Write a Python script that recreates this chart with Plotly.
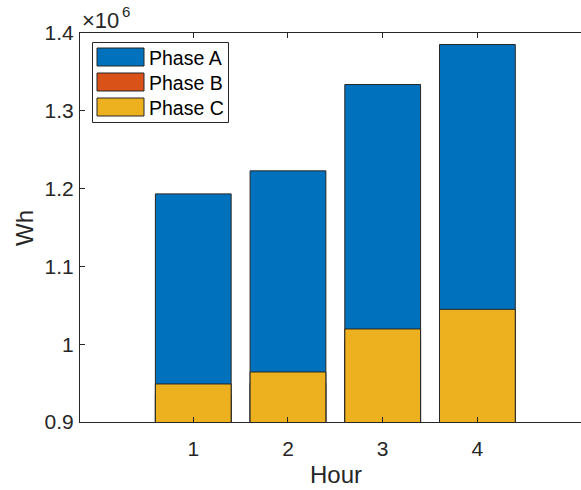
import plotly.graph_objects as go

# Hourly energy per phase (Wh)
hours = [1, 2, 3, 4]
phase_a = [1.1932e6, 1.2228e6, 1.3338e6, 1.3852e6]
phase_b = [0.9350e6, 0.9500e6, 1.0050e6, 1.0300e6]
phase_c = [0.9489e6, 0.9643e6, 1.0196e6, 1.0448e6]
series_names = ["Phase A", "Phase B", "Phase C"]
series_colors = ["#0072BD", "#D95319", "#EDB120"]
y_ticks = [0.9e6, 1.0e6, 1.1e6, 1.2e6, 1.3e6, 1.4e6]
y_tick_text = ["0.9", "1", "1.1", "1.2", "1.3", "1.4"]

W, H = 581, 490
L, R, T, B = 80, 0, 33, 68
TXT = "#262626"
FONT = "Liberation Sans, Arial, sans-serif"

fig = go.Figure()
for name, vals, col in zip(series_names, [phase_a, phase_b, phase_c], series_colors):
    fig.add_trace(go.Bar(
        x=hours, y=vals, name=name, width=0.8,
        marker=dict(color=col, line=dict(color=TXT, width=1)),
        showlegend=False,
    ))


def px(x, y):
    """pixel position -> paper coordinates"""
    return (x - L) / (W - L - R), 1 - (y - T) / (H - T - B)


shapes = []
annotations = []

# legend box
x0, y0 = px(92.5, 42.5)
x1, y1 = px(228.5, 122.5)
shapes.append(dict(type="rect", xref="paper", yref="paper", x0=x0, y0=y0, x1=x1, y1=y1,
                   line=dict(color="#262626", width=1), fillcolor="white", layer="above"))
for i, (name, col) in enumerate(zip(series_names, series_colors)):
    top = 48 + 25 * i
    sx0, sy0 = px(97, top)
    sx1, sy1 = px(144, top + 18)
    shapes.append(dict(type="rect", xref="paper", yref="paper", x0=sx0, y0=sy0, x1=sx1, y1=sy1,
                       line=dict(color=TXT, width=1), fillcolor=col, layer="above"))
    tx, ty = px(146.5, top + 9.5)
    annotations.append(dict(xref="paper", yref="paper", x=tx, y=ty, text=name,
                            showarrow=False, xanchor="left", yanchor="middle",
                            font=dict(size=19.5, color="black", family=FONT)))

# exponent label: "×10" with a raised "6"
ex, ey = px(80, 21)
annotations.append(dict(xref="paper", yref="paper", x=ex, y=ey, text="×10",
                        showarrow=False, xanchor="left", yanchor="middle",
                        font=dict(size=22, color=TXT, family=FONT)))
sx, sy = px(119.5, 11)
annotations.append(dict(xref="paper", yref="paper", x=sx, y=sy, text="6",
                        showarrow=False, xanchor="left", yanchor="middle",
                        font=dict(size=15, color=TXT, family=FONT)))

# axis titles
hx, hy = px(335.5, 474)
annotations.append(dict(xref="paper", yref="paper", x=hx, y=hy, text="Hour",
                        showarrow=False, xanchor="center", yanchor="middle",
                        font=dict(size=24, color=TXT, family=FONT)))
wx, wy = px(25, 228)
annotations.append(dict(xref="paper", yref="paper", x=wx, y=wy, text="Wh", textangle=-90,
                        showarrow=False, xanchor="center", yanchor="middle",
                        font=dict(size=24, color=TXT, family=FONT)))

fig.update_layout(
    width=W, height=H,
    margin=dict(l=L, r=R, t=T, b=B),
    barmode="overlay",
    plot_bgcolor="white", paper_bgcolor="white",
    shapes=shapes, annotations=annotations,
    font=dict(family=FONT, color=TXT, size=21),
)
fig.update_xaxes(
    range=[-0.196, 5.094], tickvals=hours, ticktext=[str(h) for h in hours],
    showline=True, linecolor=TXT, linewidth=1, mirror="ticks",
    ticks="inside", ticklen=5, tickcolor=TXT, showgrid=False, zeroline=False,
    tickfont=dict(size=21, color=TXT), ticklabelstandoff=8,
)
fig.update_yaxes(
    range=[0.9e6, 1.4e6], tickvals=y_ticks, ticktext=y_tick_text,
    showline=True, linecolor=TXT, linewidth=1,
    ticks="inside", ticklen=5, tickcolor=TXT, showgrid=False, zeroline=False,
    tickfont=dict(size=21, color=TXT), ticklabelstandoff=1,
)

fig.write_html("out.html")
